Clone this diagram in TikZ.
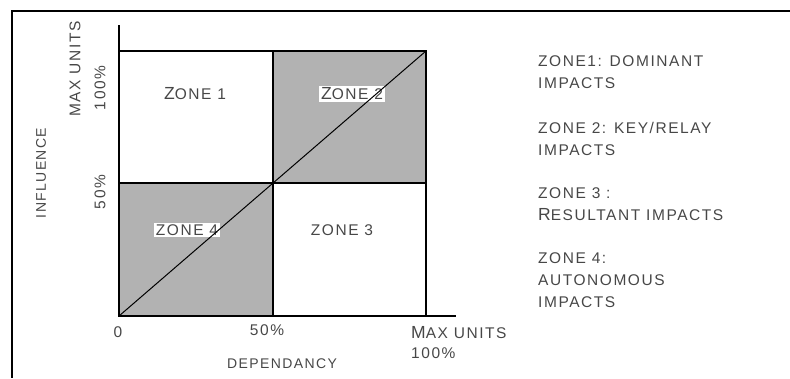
\documentclass[tikz,border=0pt]{standalone}
\usepackage{fontspec}
\newfontfamily\cad[LetterSpace=10]{Liberation Sans}
\newcommand\cadsz[1]{\fontsize{#1}{#1}\selectfont}
\newcommand\sidesz{\fontsize{15.5}{22}\selectfont}
\newcommand\bigc[1]{{\fontsize{17.5}{17.5}\selectfont #1}}
\begin{document}
\begin{tikzpicture}[x=1pt,y=-1pt,
  txt/.style={font=\cad\cadsz{15.5}, text=black!72, inner sep=1pt},
  frameline/.style={line width=2pt},
  gridline/.style={line width=1.1pt},
  shade/.style={fill=black!30, draw=none},
  zlabel/.style={txt, fill=white, inner sep=2pt},
  side/.style={txt, anchor=north west, align=left, font=\cad\sidesz}]
\useasboundingbox (0,0) rectangle (790,378);
% coordinates
\coordinate (TL) at (12,11);
\coordinate (TR) at (790,11);
\coordinate (BL) at (12,378);
\coordinate (Ytop) at (119,25);
\coordinate (O) at (119,316);
\coordinate (Xend) at (456,316);
\coordinate (G1) at (119,51);
\coordinate (G2) at (426,51);
\coordinate (G3) at (426,316);
\coordinate (Mt) at (273,51);
\coordinate (Mb) at (273,316);
\coordinate (Ml) at (119,183);
\coordinate (Mr) at (426,183);
\coordinate (C) at (273,183);
% shaded zones
\fill[shade] (Mt) rectangle (Mr);
\fill[shade] (Ml) rectangle (Mb);
% frame
\draw[frameline] (TR) -- (TL) -- (BL);
% axes and grid
\draw[gridline] (Ytop) -- (O) -- (Xend);
\draw[gridline] (G1) -- (G2) -- (G3);
\draw[gridline] (Mt) -- (Mb);
\draw[gridline] (Ml) -- (Mr);
% zone labels
\node[zlabel] (z1) at (195,94) {\bigc{Z}ONE 1};
\node[zlabel] (z2) at (352,94) {\bigc{Z}ONE 2};
\node[zlabel] (z4) at (187,230) {ZONE 4};
\node[zlabel] (z3) at (342,230) {ZONE 3};
% diagonal
\draw[line width=1pt] (O) -- (G2);
% axis labels
\node[txt] (l0) at (118,332) {0};
\node[txt] (l50) at (267,330) {50\%};
\node[txt, anchor=west] (lmax) at (410,333) {\bigc{M}AX UNITS};
\node[txt, anchor=west] (l100) at (410,353) {100\%};
\node[txt, font=\cad\cadsz{14}] (dep) at (282,364) {DEPENDANCY};
\node[txt, rotate=90] (ymax) at (75,69) {MAX UNITS};
\node[txt, rotate=90] (y100) at (100,88) {100\%};
\node[txt, rotate=90] (y50) at (100,192) {50\%};
\node[txt, rotate=90, font=\cad\cadsz{14}] (infl) at (41,173) {INFLUENCE};
% side legend
\node[side] (s1) at (537,54) {ZONE1: DOMINANT\\IMPACTS};
\node[side] (s2) at (537,121) {ZONE 2: KEY/RELAY\\IMPACTS};
\node[side] (s3) at (537,186) {ZONE 3 :\\\bigc{R}ESULTANT IMPACTS};
\node[side] (s4) at (537,251) {ZONE 4:\\AUTONOMOUS\\IMPACTS};
\end{tikzpicture}
\end{document}
